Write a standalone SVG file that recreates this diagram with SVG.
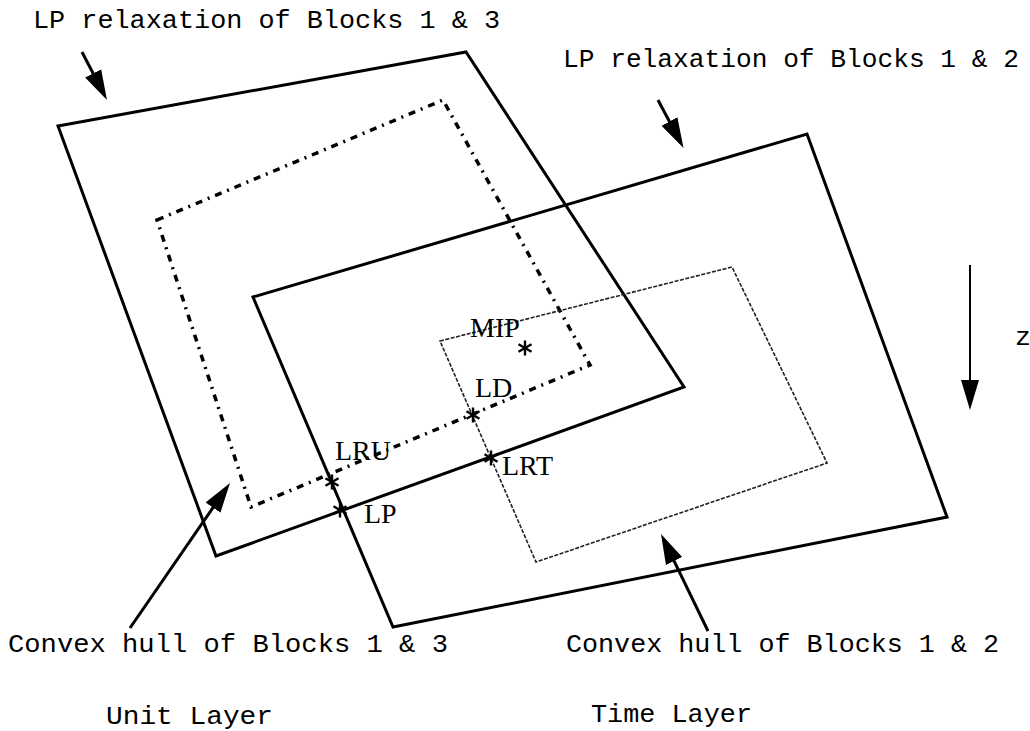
<svg xmlns="http://www.w3.org/2000/svg" width="1030" height="731" viewBox="0 0 1030 731">
  <style>
    .mono { font-family: "Liberation Mono", "Courier New", monospace; font-size: 26.5px; fill: #000; }
    .serif { font-family: "Liberation Serif", "Times New Roman", serif; font-size: 28px; fill: #000; }
    .solid { fill: none; stroke: #000; stroke-width: 3; stroke-linejoin: miter; }
    .dashdot { fill: none; stroke: #000; stroke-width: 3.5; stroke-dasharray: 7 6 2 6; }
    .fine { fill: none; stroke: #222; stroke-width: 1.6; stroke-dasharray: 4 1.5; }
    .arrow { fill: none; stroke: #000; stroke-width: 3; marker-end: url(#head); }
    .star line { stroke: #000; stroke-width: 2.4; }
  </style>
  <defs>
    <marker id="head" markerUnits="userSpaceOnUse" markerWidth="30" markerHeight="20" viewBox="0 0 30 20" refX="24" refY="10" orient="auto">
      <path d="M0,1 L30,10 L0,19 Z" fill="#000"/>
    </marker>
    <symbol id="ast" overflow="visible">
      <g class="star">
        <line x1="0" y1="-7.5" x2="0" y2="7.5"/>
        <line x1="-6.5" y1="-3.75" x2="6.5" y2="3.75"/>
        <line x1="-6.5" y1="3.75" x2="6.5" y2="-3.75"/>
      </g>
    </symbol>
  </defs>

  <rect width="1030" height="731" fill="#fff"/>

  <!-- Unit layer: LP relaxation of Blocks 1 & 3 -->
  <g id="lp-relax-13">
    <polygon class="solid" points="58,126 466,52 684,387 216,556"/>
  </g>

  <!-- Time layer: LP relaxation of Blocks 1 & 2 -->
  <g id="lp-relax-12">
    <polygon class="solid" points="253,297 807,134 947,517 393,627"/>
  </g>

  <!-- Unit layer: convex hull of Blocks 1 & 3 -->
  <g id="hull-13">
    <polygon class="dashdot" points="157,220 443,100 590,365 251,507"/>
  </g>

  <!-- Time layer: convex hull of Blocks 1 & 2 -->
  <g id="hull-12">
    <polygon class="fine" points="440,341 732,267 827,463 536,562"/>
  </g>

  <!-- Solution points -->
  <g id="points">
    <use href="#ast" x="525" y="348"/>
    <use href="#ast" x="473" y="415"/>
    <use href="#ast" x="332" y="482"/>
    <use href="#ast" x="340" y="510"/>
    <use href="#ast" x="491" y="458"/>
    <text class="serif" x="470" y="337">MIP</text>
    <text class="serif" x="475" y="397">LD</text>
    <text class="serif" x="335" y="460">LRU</text>
    <text class="serif" x="364" y="523">LP</text>
    <text class="serif" x="502" y="475">LRT</text>
  </g>

  <!-- Pointer arrows -->
  <g id="connectors">
    <line class="arrow" x1="82" y1="52" x2="104.2" y2="94.7"/>
    <line class="arrow" x1="658" y1="100" x2="680.7" y2="142.7"/>
    <line class="arrow" x1="130" y1="628" x2="226.6" y2="487.9"/>
    <line class="arrow" x1="708" y1="631" x2="663.6" y2="539.4"/>
    <line class="arrow" x1="970" y1="265" x2="970" y2="404" style="stroke-width:2"/>
  </g>

  <!-- Labels -->
  <g id="labels">
    <text class="mono" x="33" y="28" textLength="467" lengthAdjust="spacingAndGlyphs">LP relaxation of Blocks 1 &amp; 3</text>
    <text class="mono" x="563" y="67" textLength="456" lengthAdjust="spacingAndGlyphs">LP relaxation of Blocks 1 &amp; 2</text>
    <text class="mono" x="1015" y="345">z</text>
    <text class="mono" x="8" y="652" textLength="440" lengthAdjust="spacingAndGlyphs">Convex hull of Blocks 1 &amp; 3</text>
    <text class="mono" x="566" y="652" textLength="433" lengthAdjust="spacingAndGlyphs">Convex hull of Blocks 1 &amp; 2</text>
    <text class="mono" x="106" y="724" textLength="167" lengthAdjust="spacingAndGlyphs">Unit Layer</text>
    <text class="mono" x="591" y="722" textLength="161" lengthAdjust="spacingAndGlyphs">Time Layer</text>
  </g>
</svg>
